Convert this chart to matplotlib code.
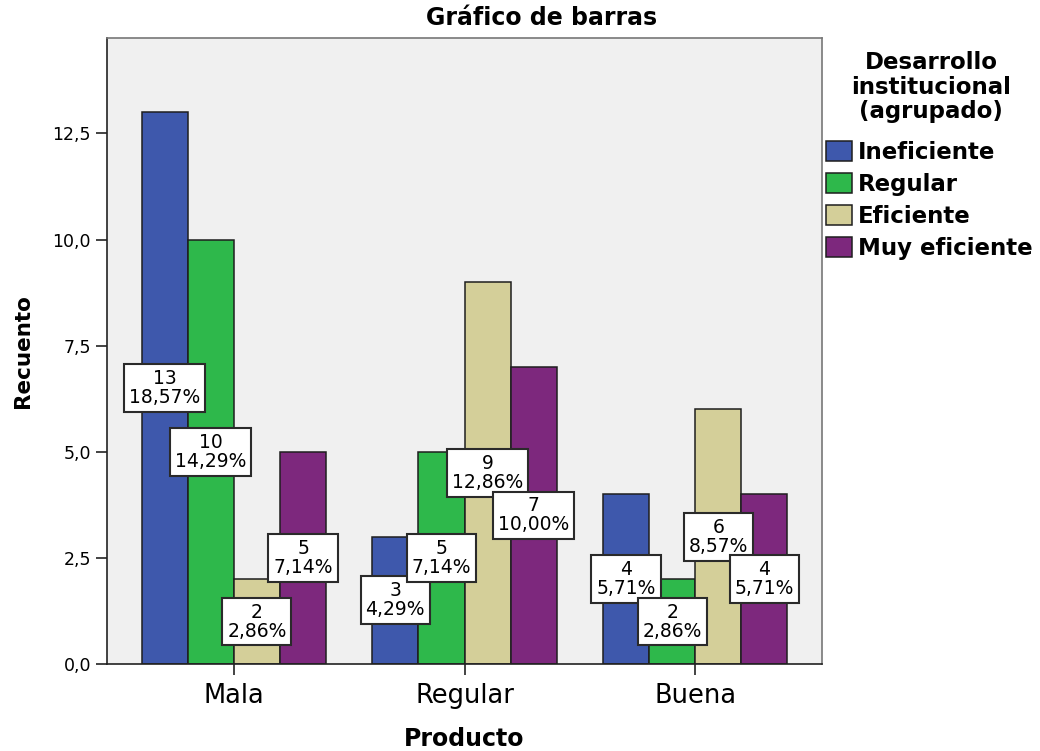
import numpy as np
import matplotlib.pyplot as plt

# data
productos = ['Mala', 'Regular', 'Buena']
niveles = ['Ineficiente', 'Regular', 'Eficiente', 'Muy eficiente']
ineficiente = [13, 3, 4]
regular = [10, 5, 2]
eficiente = [2, 9, 6]
muy_eficiente = [5, 7, 4]
y_ticks = [0, 2.5, 5, 7.5, 10, 12.5]

series = [ineficiente, regular, eficiente, muy_eficiente]
colores = ['#3E58AC', '#2EB84B', '#D4CF99', '#7D287D']
total = sum(sum(s) for s in series)

fig = plt.figure(figsize=(10.4, 7.51), dpi=100)
ax = fig.add_axes([107 / 1040, 1 - 664 / 751, 715 / 1040, 626 / 751])
ax.set_facecolor('#F0F0F0')

x = np.arange(len(productos))
ancho = 0.2
barras = []
for i, (vals, col, nom) in enumerate(zip(series, colores, niveles)):
    pos = x + (i - 1.5) * ancho
    ax.bar(pos, vals, width=ancho, color=col, edgecolor='#1E1E1E',
           linewidth=1.1, label=nom, zorder=2)
    barras.append((pos, vals))

# count / percent boxes at mid height of each bar
for pos, vals in barras:
    for px, v in zip(pos, vals):
        pct = f'{v / total * 100:.2f}'.replace('.', ',')
        ax.text(px, v / 2, f'{v}\n{pct}%', ha='center', va='center',
                fontsize=13.5, linespacing=1.0, zorder=5,
                bbox=dict(boxstyle='square,pad=0.26', fc='white',
                          ec='#2A2A2A', lw=1.5))

ax.set_xlim(-0.55, 2.55)
ax.set_ylim(0, 14.75)
ax.set_xticks(x)
ax.set_xticklabels(productos, fontsize=18.5)
ax.set_yticks(y_ticks)
ax.set_yticklabels([f'{t:.1f}'.replace('.', ',') for t in y_ticks], fontsize=12.5)
ax.tick_params(axis='both', direction='out', length=8, width=1.2, color='#222222')
ax.tick_params(axis='x', pad=6)

for s in ['left', 'bottom']:
    ax.spines[s].set_color('#222222')
    ax.spines[s].set_linewidth(1.2)
for s in ['top', 'right']:
    ax.spines[s].set_color('#777777')
    ax.spines[s].set_linewidth(1.2)

fig.text(542 / 1040, 1 - 18 / 751, 'Gráfico de barras', fontsize=17,
         fontweight='bold', ha='center', va='center')
ax.set_xlabel('Producto', fontsize=17, fontweight='bold', labelpad=13)
ax.set_ylabel('Recuento', fontsize=15.5, fontweight='bold', labelpad=14)

# legend title drawn apart so it sits like the original
fig.text(931 / 1040, 1 - 87 / 751, 'Desarrollo\ninstitucional\n(agrupado)',
         fontsize=16.5, fontweight='bold', ha='center', va='center',
         multialignment='center', linespacing=1.06)

leg = fig.legend(loc='upper left', bbox_to_anchor=(826 / 1040, 1 - 141 / 751),
                 frameon=False, borderpad=0, borderaxespad=0,
                 handlelength=1.13, handleheight=0.96, handletextpad=0.26,
                 labelspacing=0.39,
                 prop={'size': 16.5, 'weight': 'bold'})
for p in leg.get_patches():
    p.set_edgecolor('#1E1E1E')
    p.set_linewidth(1.1)

fig.savefig('out.png', dpi=100)
